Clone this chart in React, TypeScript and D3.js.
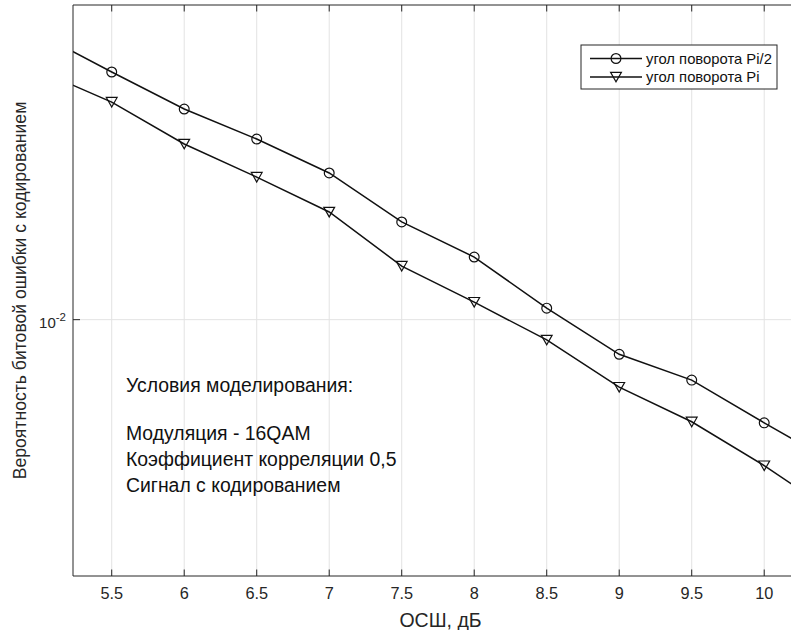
import React from 'react';
import * as d3 from 'd3';

// ОСШ, дБ
const snr = [5, 5.5, 6, 6.5, 7, 7.5, 8, 8.5, 9, 9.5, 10, 10.5];
// угол поворота Pi/2
const berHalfPi = [0.0344, 0.02919, 0.02487, 0.02184, 0.01886, 0.01526, 0.01311, 0.01051, 0.00861, 0.0077, 0.0064, 0.00535];
// угол поворота Pi
const berPi = [0.02938, 0.02563, 0.02138, 0.01853, 0.01593, 0.01261, 0.01079, 0.00916, 0.00747, 0.00643, 0.00532, 0.00431];

const xTicks = [5.5, 6, 6.5, 7, 7.5, 8, 8.5, 9, 9.5, 10];
const yTicks = [0.01];
const legendLabels = ['угол поворота Pi/2', 'угол поворота Pi'];
const noteLines = ['Условия моделирования:', '', 'Модуляция - 16QAM', 'Коэффициент корреляции 0,5', 'Сигнал с кодированием'];

const W = 791;
const H = 630;
const m = { left: 73, top: 5, right: 808, bottom: 576 };
const font = '"Liberation Sans", Arial, Helvetica, sans-serif';
const axisColor = '#262626';
const gridColor = '#e3e3e3';

const Marker = ({ kind, x, y }: { kind: string; x: number; y: number }) =>
  kind === 'circle' ? (
    <circle cx={x} cy={y} r={4.9} fill="none" stroke="#111" strokeWidth={1.2} />
  ) : (
    <path d={`M${x - 5.4},${y - 4.6}L${x + 5.4},${y - 4.6}L${x},${y + 4.9}Z`} fill="none" stroke="#111" strokeWidth={1.2} />
  );

export default function App() {
  const x = d3.scaleLinear().domain([5.233, 10.302]).range([m.left, m.right]);
  const y = d3.scaleLog().domain([0.0033, 0.039]).range([m.bottom, m.top]);

  const line = d3.line<number>()
    .x((_, i) => x(snr[i]))
    .y((d) => y(d));

  const series = [
    { values: berHalfPi, kind: 'circle' },
    { values: berPi, kind: 'triangle' },
  ];

  const noteBaselines = [392, 0, 440, 466, 492];

  return (
    <svg width={W} height={H} style={{ position: 'absolute', left: 0, top: 0, background: '#fff', overflow: 'hidden' }} fontFamily={font}>
      <defs>
        <clipPath id="plotClip">
          <rect x={m.left} y={m.top} width={m.right - m.left} height={m.bottom - m.top} />
        </clipPath>
      </defs>
      <rect x={0} y={0} width={W} height={H} fill="#fff" />

      {/* grid */}
      {xTicks.map((t) => (
        <line key={'gx' + t} x1={x(t)} x2={x(t)} y1={m.top} y2={m.bottom} stroke={gridColor} strokeWidth={1} />
      ))}
      {yTicks.map((t) => (
        <line key={'gy' + t} x1={m.left} x2={m.right} y1={y(t)} y2={y(t)} stroke={gridColor} strokeWidth={1} />
      ))}

      {/* series */}
      <g clipPath="url(#plotClip)">
        {series.map((s, si) => (
          <g key={si}>
            <path d={line(s.values) || ''} fill="none" stroke="#111" strokeWidth={1.5} />
            {s.values.map((v, i) => (
              <Marker key={i} kind={s.kind} x={x(snr[i])} y={y(v)} />
            ))}
          </g>
        ))}
      </g>

      {/* axes box */}
      <line x1={m.left} x2={m.right} y1={m.top} y2={m.top} stroke={axisColor} strokeWidth={1} />
      <line x1={m.left} x2={m.right} y1={m.bottom} y2={m.bottom} stroke={axisColor} strokeWidth={1} />
      <line x1={m.left} x2={m.left} y1={m.top} y2={m.bottom} stroke={axisColor} strokeWidth={1} />

      {xTicks.map((t) => (
        <g key={'tx' + t}>
          <line x1={x(t)} x2={x(t)} y1={m.bottom} y2={m.bottom - 6.5} stroke={axisColor} />
          <line x1={x(t)} x2={x(t)} y1={m.top} y2={m.top + 6.5} stroke={axisColor} />
          <text x={x(t)} y={599} textAnchor="middle" fontSize={16.3} fill="#262626">{t}</text>
        </g>
      ))}
      {yTicks.map((t) => (
        <g key={'ty' + t}>
          <line x1={m.left} x2={m.left + 7} y1={y(t)} y2={y(t)} stroke={axisColor} />
          <text x={m.left - 7} y={y(t) + 8.5} textAnchor="end" fontSize={15} fill="#262626">
            10<tspan dy={-7.5} fontSize={11.5}>{Math.round(Math.log10(t))}</tspan>
          </text>
        </g>
      ))}

      {/* axis labels */}
      <text x={(m.left + m.right) / 2} y={627} textAnchor="middle" fontSize={19.5} fill="#262626">ОСШ, дБ</text>
      <text transform={`translate(26,${(m.top + m.bottom) / 2}) rotate(-90)`} textAnchor="middle" fontSize={17.6} fill="#262626">
        Вероятность битовой ошибки с кодированием
      </text>

      {/* annotation */}
      {noteLines.map((s, i) =>
        s ? (
          <text key={'n' + i} x={126} y={noteBaselines[i]} fontSize={19.4} fill="#111">{s}</text>
        ) : null
      )}

      {/* legend */}
      <g>
        <rect x={581} y={45} width={196} height={44} fill="#fff" stroke={axisColor} strokeWidth={1} />
        {legendLabels.map((lab, i) => {
          const ly = 58.5 + i * 18.5;
          return (
            <g key={lab}>
              <line x1={590} x2={642} y1={ly} y2={ly} stroke="#111" strokeWidth={1.5} />
              <Marker kind={series[i].kind} x={616} y={ly} />
              <text x={646} y={ly + 5.2} fontSize={14.8} fill="#111">{lab}</text>
            </g>
          );
        })}
      </g>
    </svg>
  );
}
